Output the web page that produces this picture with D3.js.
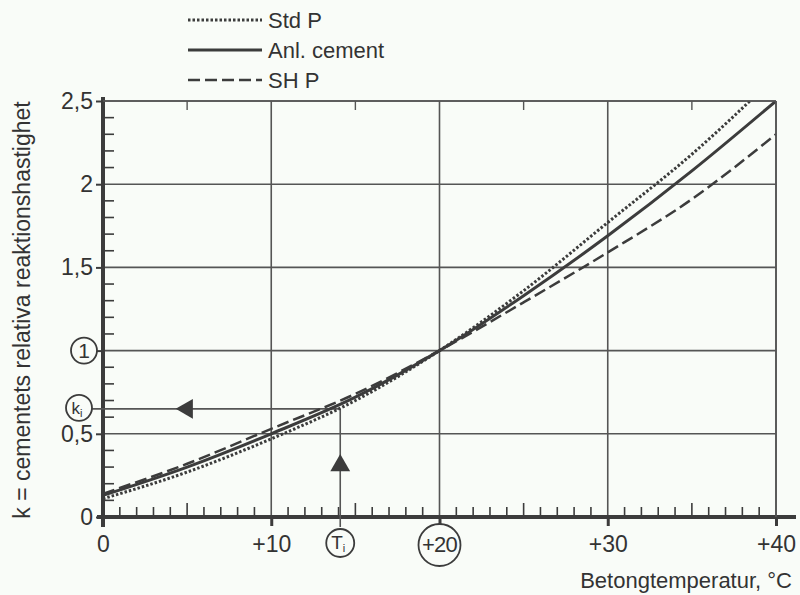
<!DOCTYPE html>
<html>
<head>
<meta charset="utf-8">
<script src="https://cdn.jsdelivr.net/npm/d3@7"></script>
<style>
  html, body { margin: 0; padding: 0; background: #f9fcf8; }
  svg { display: block; font-family: "Liberation Sans", Arial, sans-serif; }
</style>
</head>
<body>
<svg width="800" height="595"></svg>
<script>
const temps = [0, 5, 10, 15, 20, 25, 30, 35, 40];
const stdP = [0.11, 0.27, 0.47, 0.70, 1.0, 1.36, 1.77, 2.18, 2.65];
const anlCement = [0.13, 0.30, 0.50, 0.72, 1.0, 1.33, 1.69, 2.08, 2.5];
const shP = [0.14, 0.32, 0.53, 0.74, 1.0, 1.29, 1.59, 1.91, 2.30];

const xTicks = [0, 10, 20, 30, 40];
const yTicks = [0, 0.5, 1, 1.5, 2, 2.5];
const Ti = 14.1, ki = 0.65;

const series = [
  { name: "Std P", values: stdP, dash: "2.5,2", width: 3 },
  { name: "Anl. cement", values: anlCement, dash: null, width: 3 },
  { name: "SH P", values: shP, dash: "12,5", width: 2.5 }
];

const ink = "#3c3c3c";
const txt = "#333";
const svg = d3.select("svg");
const margin = { top: 101, right: 24, bottom: 78, left: 103 };
const width = 800 - margin.left - margin.right;
const height = 595 - margin.top - margin.bottom;

const x = d3.scaleLinear().domain([0, 40]).range([0, width]);
const y = d3.scaleLinear().domain([0, 2.5]).range([height, 0]);

const g = svg.append("g").attr("transform", `translate(${margin.left},${margin.top})`);

// grid lines
g.append("g").selectAll("line").data(yTicks.slice(1)).join("line")
  .attr("x1", 0).attr("x2", width)
  .attr("y1", d => y(d)).attr("y2", d => y(d))
  .attr("stroke", "#555").attr("stroke-width", 1.6);
g.append("g").selectAll("line").data(xTicks.slice(1)).join("line")
  .attr("x1", d => x(d)).attr("x2", d => x(d))
  .attr("y1", 0).attr("y2", height)
  .attr("stroke", "#555").attr("stroke-width", 1.6);

// small ticks hanging from top border every 5 °C
g.append("g").selectAll("line").data(d3.range(5, 40, 10)).join("line")
  .attr("x1", d => x(d)).attr("x2", d => x(d))
  .attr("y1", 0).attr("y2", 9)
  .attr("stroke", "#555").attr("stroke-width", 1.4);

// minor ticks on the x axis (every 1 °C, longer every 5)
g.append("g").selectAll("line").data(d3.range(1, 40).filter(d => d % 10 !== 0)).join("line")
  .attr("x1", d => x(d)).attr("x2", d => x(d))
  .attr("y1", height).attr("y2", d => height - (d % 5 === 0 ? 14 : 10))
  .attr("stroke", ink).attr("stroke-width", 1.6);

// minor ticks on the y axis (every 0.1)
g.append("g").selectAll("line").data(d3.range(1, 25).filter(d => d % 5 !== 0).map(d => d / 10)).join("line")
  .attr("x1", 0).attr("x2", 11)
  .attr("y1", d => y(d)).attr("y2", d => y(d))
  .attr("stroke", ink).attr("stroke-width", 1.6);

// axes
const xAxis = d3.axisBottom(x).tickValues(xTicks)
  .tickFormat(d => d === 0 ? "0" : "+" + d).tickSize(9).tickPadding(10);
const xg = g.append("g").attr("transform", `translate(0,${height})`).call(xAxis);
xg.select(".domain").remove();
xg.selectAll(".tick line").attr("stroke", ink).attr("stroke-width", 3);
xg.selectAll(".tick text").attr("font-size", 23).attr("fill", txt)
  .attr("font-family", "Liberation Sans, Arial, sans-serif")
  .text(d => d === 20 ? "" : (d === 0 ? "0" : "+" + d));

const yAxis = d3.axisLeft(y).tickValues(yTicks)
  .tickFormat(d => String(d).replace(".", ",")).tickSize(7).tickPadding(3);
const yg = g.append("g").call(yAxis);
yg.select(".domain").remove();
yg.selectAll(".tick line").attr("stroke", ink).attr("stroke-width", 2);
yg.selectAll(".tick text").attr("font-size", 23).attr("fill", txt)
  .attr("font-family", "Liberation Sans, Arial, sans-serif")
  .text(d => d === 1 ? "" : String(d).replace(".", ","));

// heavy axis lines
g.append("line").attr("x1", -6).attr("x2", width + 20)
  .attr("y1", height).attr("y2", height)
  .attr("stroke", ink).attr("stroke-width", 4);
g.append("line").attr("x1", 0).attr("x2", 0)
  .attr("y1", -4).attr("y2", height + 10)
  .attr("stroke", ink).attr("stroke-width", 4);

// Ti / ki construction lines
g.append("line").attr("x1", -12).attr("x2", x(Ti))
  .attr("y1", y(ki)).attr("y2", y(ki))
  .attr("stroke", "#555").attr("stroke-width", 1.6);
g.append("line").attr("x1", x(Ti)).attr("x2", x(Ti))
  .attr("y1", y(ki)).attr("y2", height + 10)
  .attr("stroke", "#555").attr("stroke-width", 1.6);

// arrows
const tri = d3.symbol().type(d3.symbolTriangle).size(170);
g.append("path").attr("d", tri)
  .attr("transform", `translate(${x(5)},${y(ki)}) rotate(-90)`)
  .attr("fill", ink);
g.append("path").attr("d", tri)
  .attr("transform", `translate(${x(Ti)},${y(0.31)})`)
  .attr("fill", ink);

// curves
g.append("clipPath").attr("id", "plot").append("rect")
  .attr("x", 0).attr("y", 0).attr("width", width).attr("height", height);

const line = d3.line()
  .x((d, i) => x(temps[i]))
  .y(d => y(d))
  .curve(d3.curveMonotoneX);

g.append("g").attr("clip-path", "url(#plot)")
  .selectAll("path").data(series).join("path")
  .attr("d", d => line(d.values))
  .attr("fill", "none")
  .attr("stroke", ink)
  .attr("stroke-width", d => d.width)
  .attr("stroke-dasharray", d => d.dash);

// plot frame (top and right)
g.append("line").attr("x1", 0).attr("x2", width).attr("y1", 0).attr("y2", 0)
  .attr("stroke", "#555").attr("stroke-width", 1.6);
g.append("line").attr("x1", width).attr("x2", width).attr("y1", 0).attr("y2", height)
  .attr("stroke", "#555").attr("stroke-width", 1.6);

// circled labels
const circled = [
  { cx: -19, cy: y(1), r: 13, label: "1", sub: null, size: 21 },
  { cx: -24, cy: y(ki) - 1, r: 13, label: "k", sub: "i", size: 17 },
  { cx: x(Ti), cy: height + 26, r: 14, label: "T", sub: "i", size: 19 },
  { cx: x(20), cy: height + 28, r: 21, label: "+20", sub: null, size: 22 }
];
circled.forEach(c => {
  g.append("circle").attr("cx", c.cx).attr("cy", c.cy).attr("r", c.r)
    .attr("fill", "#f9fcf8").attr("stroke", ink).attr("stroke-width", 1.8);
  const t = g.append("text").attr("x", c.cx - (c.sub ? 2 : 0)).attr("y", c.cy + c.size * 0.34)
    .attr("text-anchor", "middle").attr("font-size", c.size).attr("fill", txt)
    .attr("letter-spacing", c.label.length > 1 ? -0.8 : 0)
    .text(c.label);
  if (c.sub) t.append("tspan").attr("font-size", 11).attr("dy", 3).text(c.sub);
});

// axis titles
svg.append("text")
  .attr("x", 792).attr("y", 588)
  .attr("text-anchor", "end").attr("font-size", 22).attr("fill", txt)
  .text("Betongtemperatur, °C");
svg.append("text")
  .attr("transform", "translate(30,310) rotate(-90)")
  .attr("text-anchor", "middle").attr("font-size", 23).attr("fill", txt)
  .text("k = cementets relativa reaktionshastighet");

// legend
const legend = svg.append("g").attr("transform", "translate(188,20)");
series.forEach((s, i) => {
  const row = legend.append("g").attr("transform", `translate(0,${i * 30})`);
  row.append("line").attr("x1", 0).attr("x2", 74).attr("y1", 0).attr("y2", 0)
    .attr("stroke", ink).attr("stroke-width", s.width)
    .attr("stroke-dasharray", s.dash);
  row.append("text").attr("x", 80).attr("y", 8)
    .attr("font-size", 22).attr("fill", txt).text(s.name);
});
</script>
</body>
</html>
